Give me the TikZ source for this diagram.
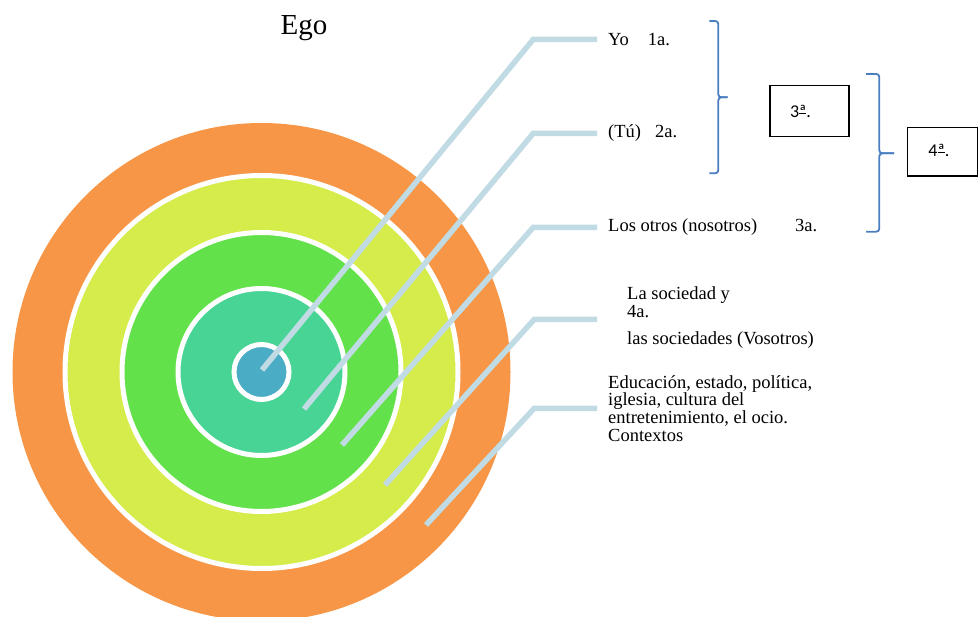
\documentclass[tikz,border=0pt]{standalone}
\usepackage{fontspec}
\setmainfont{Liberation Serif}
\newfontfamily\boxfont{Carlito}
\usetikzlibrary{positioning}
\definecolor{ringorange}{RGB}{247,150,70}
\definecolor{ringlime}{RGB}{213,236,74}
\definecolor{ringgreen}{RGB}{98,225,74}
\definecolor{ringteal}{RGB}{72,212,148}
\definecolor{ringcore}{RGB}{75,172,198}
\definecolor{spokecol}{RGB}{192,219,228}
\definecolor{bracecol}{RGB}{74,126,193}
\newcommand{\ordline}{\leavevmode\setbox0\hbox{ª}\rlap{\rule[3.6pt]{\wd0}{0.9pt}}\box0}
\tikzset{
  ring/.style={draw=white, line width=5pt},
  spoke/.style={draw=spokecol, line width=5.5pt},
  lbl/.style={font=\fontsize{18.5}{17.7}\selectfont, inner xsep=11pt, inner ysep=0pt, align=left, anchor=west},
  numbox/.style={draw, line width=1.2pt, font=\boxfont\fontsize{18}{20}\selectfont, align=left, inner ysep=0pt},
  brace/.style={draw=bracecol, line width=1.8pt, rounded corners=3pt}
}
\begin{document}
\begin{tikzpicture}[x=1pt, y=-1pt]
      \useasboundingbox (0,0) rectangle (978,617);
      \coordinate (c) at (261.5,372);
      \fill[ringorange] (c) circle[radius=249pt];
      \filldraw[ring, fill=ringlime] (c) circle[radius=196.5pt];
      \filldraw[ring, fill=ringgreen] (c) circle[radius=139.5pt];
      \filldraw[ring, fill=ringteal] (c) circle[radius=83.5pt];
      \filldraw[ring, fill=ringcore] (c) circle[radius=27.5pt];
      \node[font=\fontsize{29}{32}\selectfont, anchor=base] (ego) at (304,34.3) {Ego};
      \node[lbl] (yo) at (597,39.3) {Yo\hspace{19pt}1a.};
      \node[lbl] (tu) at (597,133.3) {(Tú)\hspace{14pt}2a.};
      \node[lbl] (otros) at (597,227.3) {Los otros (nosotros)\hspace{38pt}3a.};
      \node[lbl, inner xsep=30pt, yshift=1.5pt] (soc) at (597,319.3) {La sociedad y\\ 4a.\\[10pt] las sociedades (Vosotros)};
      \node[lbl] (ctx) at (597,408.3) {Educación, estado, política,\\ iglesia, cultura del\\ entretenimiento, el ocio.\\ Contextos};
      \draw
        (262,370) coordinate (s1)
        (304,409) coordinate (s2)
        (342,445) coordinate (s3)
        (385,485) coordinate (s4)
        (426,525) coordinate (s5)
        (533.3,39.3) coordinate (k1)
        (533.3,133.3) coordinate (k2)
        (533.3,227.3) coordinate (k3)
        (534.3,319.3) coordinate (k4)
        (534.3,408.3) coordinate (k5);
      \begin{scope}[spoke]
        \draw (s1) -- (k1) -- (yo.west);
        \draw (s2) -- (k2) -- (tu.west);
        \draw (s3) -- (k3) -- (otros.west);
        \draw (s4) -- (k4) -- (k4 -| soc.west);
        \draw (s5) -- (k5) -- (ctx.west);
      \end{scope}
      \draw[brace] (709.3,21) -- (718.3,21) -- (718.3,97.3) -- (727.7,97.3);
      \draw[brace] (709.3,173.3) -- (718.3,173.3) -- (718.3,97.3) -- (727.7,97.3);
      \draw[brace] (866,74) -- (879.3,74) -- (879.3,153.3) -- (894,153.3);
      \draw[brace] (866,231.7) -- (879.3,231.7) -- (879.3,153.3) -- (894,153.3);
      \node[numbox, minimum width=79pt, minimum height=51.4pt, inner xsep=20pt, text width=39pt] (third) at (809.5,111) {3\ordline.};
      \node[numbox, minimum width=70pt, minimum height=48.3pt, inner xsep=21pt, text width=28pt, yshift=-2pt, text depth=4pt] (fourth) at (942.4,149.9) {4\ordline.};
    \end{tikzpicture}
\end{document}
